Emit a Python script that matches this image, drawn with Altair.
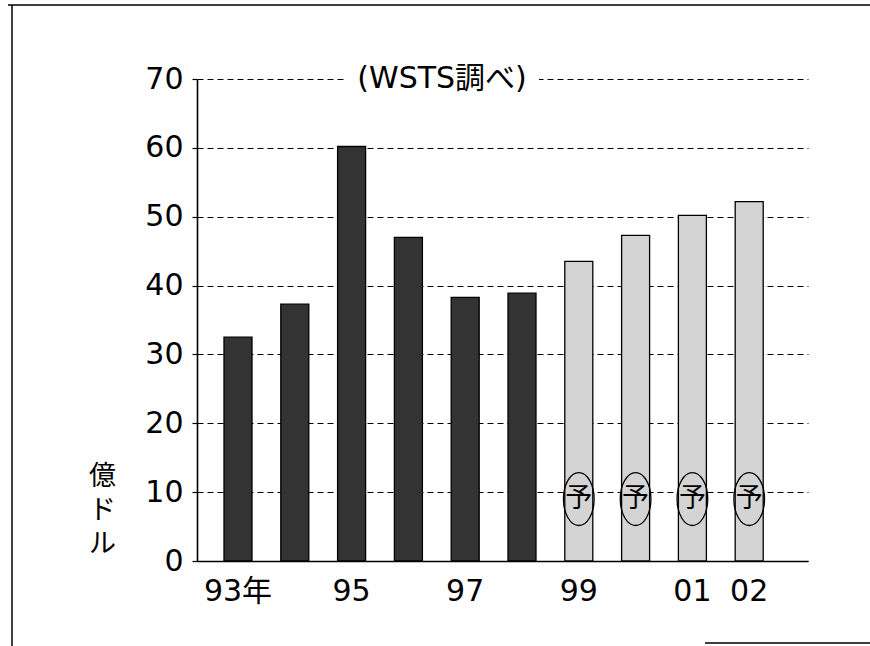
import altair as alt
import pandas as pd

# ---- data ----
years = ["93", "94", "95", "96", "97", "98", "99", "00", "01", "02"]
tick_labels = ["93年", "", "95", "", "97", "", "99", "", "01", "02"]
values = [32.5, 37.3, 60.2, 47.0, 38.3, 38.9, 43.5, 47.3, 50.2, 52.2]
kinds = ["実績"] * 6 + ["予測"] * 4
forecast_years = ["99", "00", "01", "02"]
forecast_marks = ["予", "予", "予", "予"]
title_text = "(WSTS調べ)"
y_title = ["億", "ド", "ル"]
y_ticks = [0, 10, 20, 30, 40, 50, 60, 70]

df = pd.DataFrame({"year": years, "value": values, "kind": kinds})
fc = pd.DataFrame({"year": forecast_years, "mark": forecast_marks})
one = pd.DataFrame({"t": [title_text]})

NUM_FONT = "DejaVu Sans, Noto Sans CJK JP"
JP_FONT = "Noto Sans CJK JP"

label_expr = "[" + ",".join("'%s'" % t for t in tick_labels) + "][indexof([" + \
    ",".join("'%s'" % y for y in years) + "], datum.value)]"

x_enc = alt.X(
    "year:N",
    sort=years,
    scale=alt.Scale(paddingInner=0.507, paddingOuter=0.632, align=0.376),
    axis=alt.Axis(
        title=None,
        labelAngle=0,
        labelExpr=label_expr,
        labelFont=NUM_FONT,
        labelFontSize=30,
        labelColor="black",
        labelPadding=15,
        ticks=False,
        domainColor="black",
        domainWidth=1.6,
        grid=False,
    ),
)

y_enc = alt.Y(
    "value:Q",
    scale=alt.Scale(domain=[0, 70], nice=False),
    axis=alt.Axis(
        values=y_ticks,
        title=y_title,
        titleAngle=0,
        titleX=-95,
        titleY=384,
        titleAlign="center",
        titleBaseline="top",
        titleFont=JP_FONT,
        titleFontSize=27,
        titleFontWeight="normal",
        titleLineHeight=34,
        titleColor="black",
        labelFont=NUM_FONT,
        labelFontSize=30,
        labelColor="black",
        labelPadding=9,
        tickSize=5,
        tickColor="black",
        tickWidth=1.2,
        domainColor="black",
        domainWidth=1.6,
        grid=True,
        gridColor="black",
        gridDash=[6, 4],
        gridWidth=1,
    ),
)

bars = alt.Chart(df).mark_bar(stroke="black", strokeWidth=1.3).encode(
    x=x_enc,
    y=y_enc,
    color=alt.Color(
        "kind:N",
        scale=alt.Scale(domain=["実績", "予測"], range=["#333333", "#d4d4d4"]),
        legend=None,
    ),
)

ellipse = alt.Chart(fc).mark_point(
    shape="M0,-1 A0.58,1 0 1,1 0,1 A0.58,1 0 1,1 0,-1 Z",
    size=2800,
    filled=False,
    stroke="black",
    strokeWidth=1.3,
    opacity=1,
).encode(x=alt.X("year:N", sort=years), y=alt.datum(9))

yo = alt.Chart(fc).mark_text(
    font=JP_FONT, fontSize=27, color="black", baseline="middle", align="center"
).encode(x=alt.X("year:N", sort=years), y=alt.datum(9), text="mark:N")

title_bg = alt.Chart(one).mark_rect(color="white").encode(
    x=alt.value(150), x2=alt.value(342), y=alt.value(-6), y2=alt.value(6)
)
title = alt.Chart(one).mark_text(
    font=NUM_FONT, fontSize=30, color="black", baseline="middle", align="center"
).encode(x=alt.value(245), y=alt.datum(70), text="t:N")

frame_top = alt.Chart(one).mark_rule(color="black", strokeWidth=1.5).encode(
    x=alt.value(-189), x2=alt.value(673), y=alt.value(-74)
)
frame_left = alt.Chart(one).mark_rule(color="black", strokeWidth=1.5).encode(
    x=alt.value(-185), y=alt.value(-74), y2=alt.value(567)
)
frame_bottom = alt.Chart(one).mark_rule(color="black", strokeWidth=1.5).encode(
    x=alt.value(508), x2=alt.value(673), y=alt.value(564)
)

chart = alt.layer(
    bars, ellipse, yo, title_bg, title, frame_top, frame_left, frame_bottom
).properties(
    width=611,
    height=482,
    autosize="none",
    padding={"left": 197, "top": 79, "right": 62, "bottom": 85},
    background="white",
).configure_view(stroke=None)

chart.save("out.html", embed_options={"renderer": "svg", "actions": False})
